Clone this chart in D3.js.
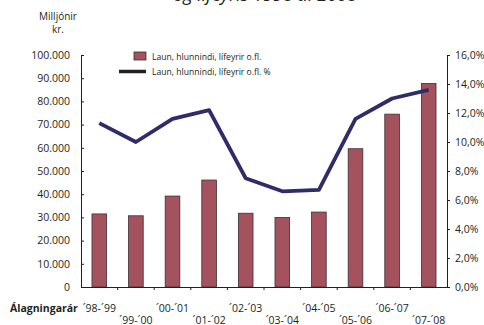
<!DOCTYPE html>
<html>
<head>
<meta charset="utf-8">
<script src="https://cdn.jsdelivr.net/npm/d3@7"></script>
<style>
  body { margin: 0; background: #fff; }
  svg text { font-family: "Open Sans", sans-serif; fill: #231f20; }
</style>
</head>
<body>
<div class="chart"></div>
<script>
// data
var years = ["´98-´99", "´99-´00", "´00-´01", "´01-´02", "´02-´03", "´03-´04", "´04-´05", "´05-´06", "´06-´07", "´07-´08"];
var laun = [31500, 30700, 39200, 46100, 31800, 30000, 32300, 59600, 74500, 87700];
var launPct = [11.3, 10.0, 11.6, 12.2, 7.5, 6.6, 6.7, 11.6, 13.0, 13.6];
var leftTicks = d3.range(0, 100001, 10000);
var rightTicks = d3.range(0, 16.01, 2);

var width = 484, height = 325;
var margin = {top: 55, right: 37, bottom: 38, left: 81};

var svg = d3.select(".chart").append("svg")
    .attr("width", width)
    .attr("height", height);

var x = d3.scaleBand().domain(years).range([margin.left, width - margin.right]).paddingInner(0.6).paddingOuter(0.3);
var xc = d3.scaleBand().domain(years).range([margin.left, width - margin.right]);
var y = d3.scaleLinear().domain([0, 100000]).range([height - margin.bottom, margin.top]);
var y2 = d3.scaleLinear().domain([0, 16]).range([height - margin.bottom, margin.top]);

var fmtK = function(d) { return d3.format(",")(d).replace(/,/g, "."); };
var fmtP = function(d) { return d.toFixed(1).replace(".", ",") + "%"; };

// title, cut off at the top like the original
svg.append("text")
    .attr("x", 265).attr("y", 1)
    .attr("text-anchor", "middle")
    .style("font-size", "18px")
    .style("font-style", "italic")
    .text("og lífeyris 1998 til 2008");

svg.append("text").attr("x", 58).attr("y", 20).attr("text-anchor", "middle")
    .style("font-size", "10px").text("Milljónir");
svg.append("text").attr("x", 58).attr("y", 33).attr("text-anchor", "middle")
    .style("font-size", "10px").text("kr.");

// bars
svg.selectAll(".bar")
    .data(laun)
  .enter().append("rect")
    .attr("class", "bar")
    .attr("x", function(d, i) { return x(years[i]); })
    .attr("width", x.bandwidth())
    .attr("y", function(d) { return y(d); })
    .attr("height", function(d) { return y(0) - y(d); })
    .attr("fill", "#a5525f")
    .attr("stroke", "#3a3032")
    .attr("stroke-width", 0.8);

// line
var line = d3.line()
    .x(function(d, i) { return xc(years[i]) + xc.bandwidth() / 2; })
    .y(function(d) { return y2(d); });

svg.append("path")
    .datum(launPct)
    .attr("d", line)
    .attr("fill", "none")
    .attr("stroke", "#2e2c69")
    .attr("stroke-width", 3.8)
    .attr("stroke-linejoin", "round");

// axes
var yAxis = d3.axisLeft(y).tickValues(leftTicks).tickSize(-3).tickFormat(fmtK).tickPadding(11);
var gy = svg.append("g")
    .attr("transform", "translate(" + margin.left + ",0)")
    .call(yAxis);

var y2Axis = d3.axisRight(y2).tickValues(rightTicks).tickSize(3).tickFormat(fmtP).tickPadding(5);
var gy2 = svg.append("g")
    .attr("transform", "translate(" + (width - margin.right) + ",0)")
    .call(y2Axis);

var xAxis = d3.axisBottom(xc).tickSize(0).tickFormat("");
var gx = svg.append("g")
    .attr("transform", "translate(0," + y(0) + ")")
    .call(xAxis);

// category boundary ticks
gx.selectAll(".sep")
    .data(years.slice(1))
  .enter().append("line")
    .attr("class", "sep")
    .attr("x1", function(d) { return xc(d); })
    .attr("x2", function(d) { return xc(d); })
    .attr("y1", 0).attr("y2", 3)
    .attr("stroke", "#231f20");

[gy, gy2, gx].forEach(function(g) {
  g.selectAll(".domain").attr("stroke", "#231f20").attr("stroke-width", 1);
  g.selectAll(".tick line").attr("stroke", "#231f20");
  g.selectAll("text").style("font-size", "10.5px").attr("fill", "#231f20");
});

// staggered category labels
svg.selectAll(".xlab")
    .data(years)
  .enter().append("text")
    .attr("class", "xlab")
    .attr("x", function(d) { return xc(d) + xc.bandwidth() / 2; })
    .attr("y", function(d, i) { return i % 2 === 0 ? 312 : 323.5; })
    .attr("text-anchor", "middle")
    .style("font-size", "10.5px")
    .text(function(d) { return d; });

svg.append("text")
    .attr("x", 10).attr("y", 312)
    .style("font-size", "10.5px")
    .style("font-weight", "bold")
    .text("Álagningarár");

// legend
var legend = svg.append("g");
legend.append("rect")
    .attr("x", 134).attr("y", 52).attr("width", 12).attr("height", 8)
    .attr("fill", "#a5525f").attr("stroke", "#3a3032").attr("stroke-width", 0.8);
legend.append("text")
    .attr("x", 152).attr("y", 59.5)
    .style("font-size", "8.6px")
    .text("Laun, hlunnindi, lífeyrir o.fl.");
legend.append("line")
    .attr("x1", 119).attr("x2", 146).attr("y1", 71.5).attr("y2", 71.5)
    .attr("stroke", "#231f20").attr("stroke-width", 3.5);
legend.append("text")
    .attr("x", 152).attr("y", 74.5)
    .style("font-size", "8.6px")
    .text("Laun, hlunnindi, lífeyrir o.fl.  %");
</script>
</body>
</html>
